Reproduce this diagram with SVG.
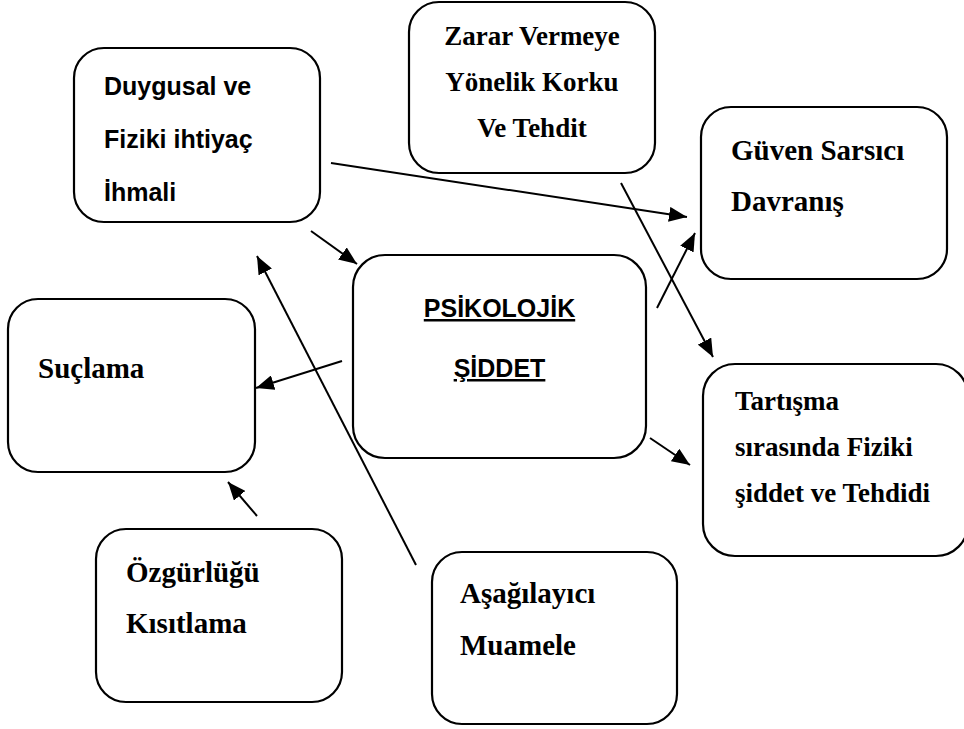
<svg xmlns="http://www.w3.org/2000/svg" width="964" height="729" viewBox="0 0 964 729">
  <style>
    .box { fill: #ffffff; stroke: #000000; stroke-width: 2.2; }
    .sans { font-family: "Liberation Sans", Arial, sans-serif; font-weight: bold; font-size: 25px; fill: #000; }
    .serif { font-family: "Liberation Serif", "Times New Roman", serif; font-weight: bold; font-size: 29px; fill: #000; }
    .serif26 { font-size: 27px; }
    .ul { text-decoration: underline; }
    .conn line { stroke: #000; stroke-width: 2; marker-end: url(#arrow); }
  </style>
  <defs>
    <marker id="arrow" markerUnits="userSpaceOnUse" markerWidth="19" markerHeight="15" refX="18" refY="7.5" orient="auto">
      <path d="M0,0 L18,7.5 L0,15 z" fill="#000"/>
    </marker>
  </defs>
  <rect width="964" height="729" fill="#ffffff"/>

  <g id="duygusal">
    <rect class="box" x="74" y="48" width="246" height="174" rx="30"/>
    <text class="sans" x="104" y="95">Duygusal ve</text>
    <text class="sans" x="104" y="148">Fiziki ihtiyaç</text>
    <text class="sans" x="104" y="201">İhmali</text>
  </g>

  <g id="zarar">
    <rect class="box" x="409" y="2" width="246" height="171" rx="30"/>
    <text class="serif serif26" x="532" y="45" text-anchor="middle">Zarar Vermeye</text>
    <text class="serif serif26" x="532" y="91" text-anchor="middle">Yönelik Korku</text>
    <text class="serif serif26" x="532" y="137" text-anchor="middle">Ve Tehdit</text>
  </g>

  <g id="guven">
    <rect class="box" x="701" y="107" width="246" height="172" rx="30"/>
    <text class="serif" x="731" y="160">Güven Sarsıcı</text>
    <text class="serif" x="731" y="211">Davranış</text>
  </g>

  <g id="psikolojik">
    <rect class="box" x="353" y="255" width="293" height="203" rx="32"/>
    <text class="sans ul" x="499.5" y="317" text-anchor="middle">PSİKOLOJİK</text>
    <text class="sans ul" x="499.5" y="377" text-anchor="middle">ŞİDDET</text>
  </g>

  <g id="suclama">
    <rect class="box" x="8" y="299" width="247" height="173" rx="30"/>
    <text class="serif" x="38" y="378">Suçlama</text>
  </g>

  <g id="tartisma">
    <rect class="box" x="703" y="364" width="265" height="192" rx="32"/>
    <text class="serif serif26" x="735" y="410">Tartışma</text>
    <text class="serif serif26" x="735" y="456">sırasında Fiziki</text>
    <text class="serif serif26" x="735" y="502">şiddet ve Tehdidi</text>
  </g>

  <g id="ozgurlugu">
    <rect class="box" x="96" y="529" width="246" height="173" rx="30"/>
    <text class="serif" x="126" y="582">Özgürlüğü</text>
    <text class="serif" x="126" y="633">Kısıtlama</text>
  </g>

  <g id="asagilayici">
    <rect class="box" x="432" y="552" width="245" height="172" rx="30"/>
    <text class="serif" x="460" y="603">Aşağılayıcı</text>
    <text class="serif" x="460" y="655">Muamele</text>
  </g>

  <g id="connectors" class="conn">
    <line x1="331" y1="163" x2="687" y2="217"/>
    <line x1="311" y1="231" x2="357" y2="264"/>
    <line x1="416" y1="565" x2="257" y2="256"/>
    <line x1="342" y1="361" x2="256" y2="388"/>
    <line x1="257" y1="516" x2="228" y2="482"/>
    <line x1="657" y1="308" x2="695" y2="233"/>
    <line x1="621" y1="183" x2="713" y2="357"/>
    <line x1="650" y1="438" x2="690" y2="465"/>
  </g>
</svg>
